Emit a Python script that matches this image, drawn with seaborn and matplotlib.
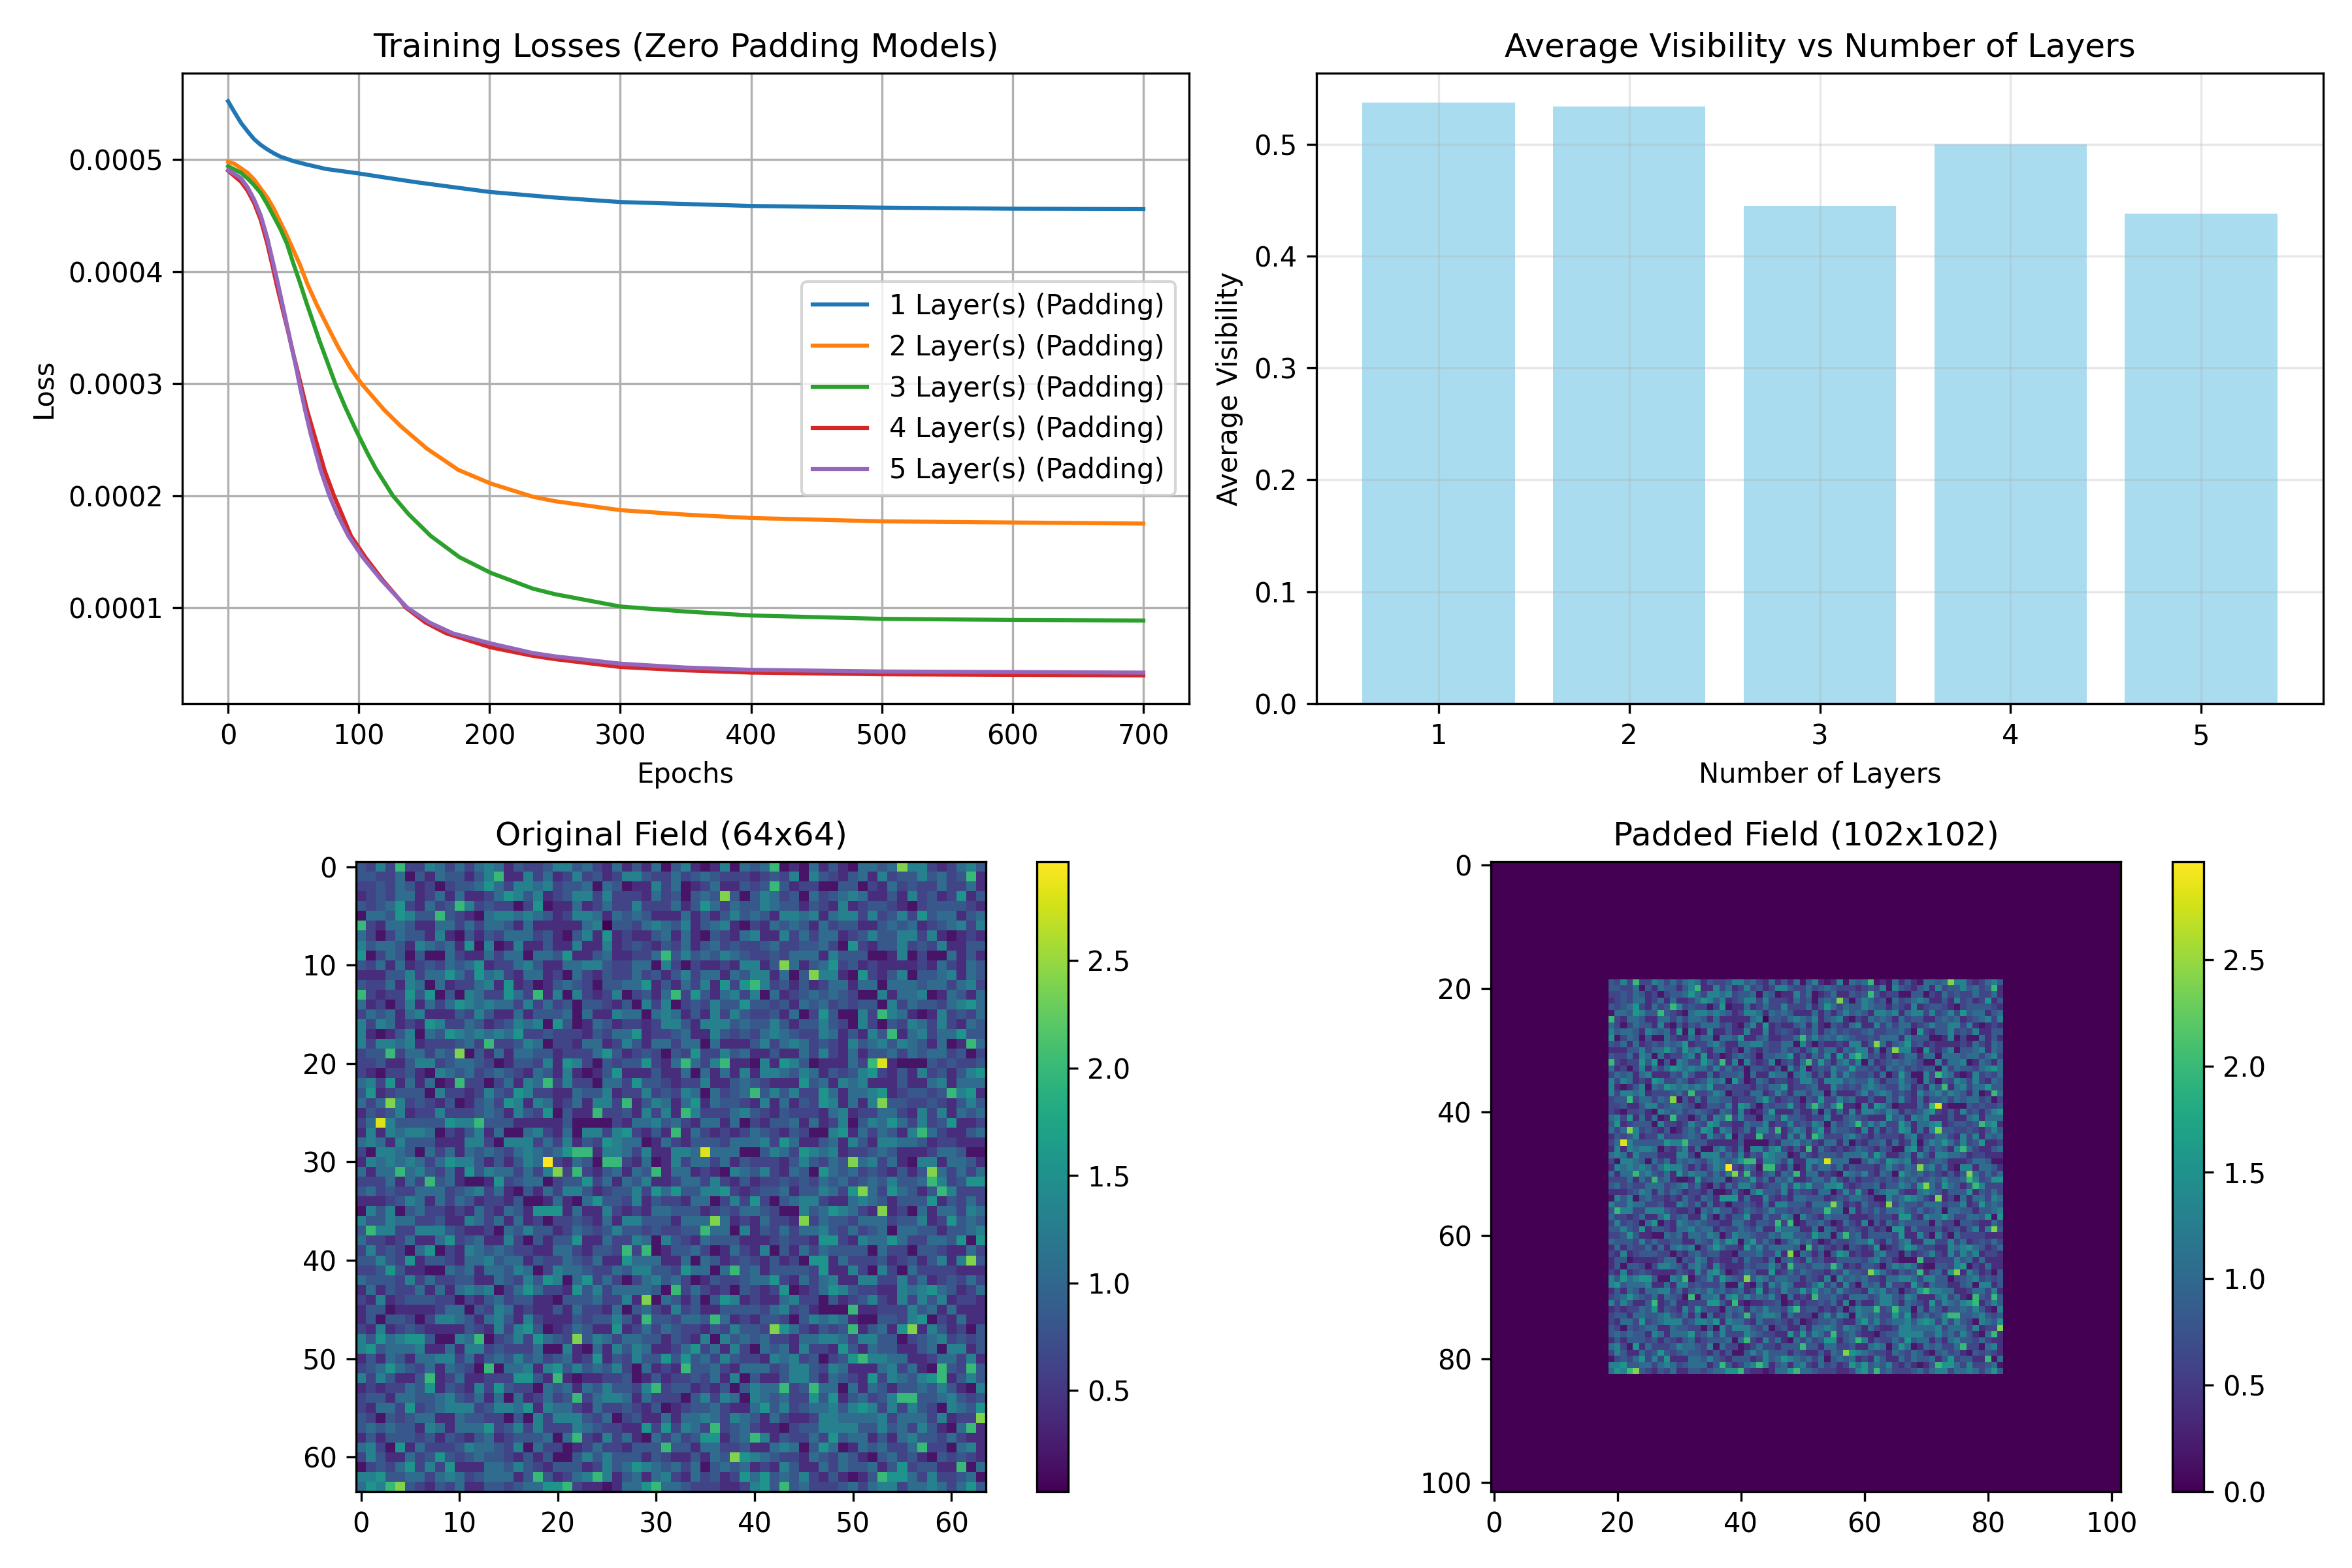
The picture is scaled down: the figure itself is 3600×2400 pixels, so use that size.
# ----------------------------------------------------------
# Zero padding study : losses, visibility and field maps
# ----------------------------------------------------------

import numpy as np
import matplotlib
matplotlib.use("Agg")
import matplotlib.pyplot as plt
import seaborn as sns

# ----------------------------------------------------------
# Loss curves, values in units of 1e-4
# ----------------------------------------------------------

loss_scale = 1e-4

epochs_1 = [0, 5, 10, 15, 20, 25, 30, 35, 40, 50, 60, 75, 100, 125, 145, 200, 250, 300, 400, 500, 600, 700]
loss_1 = [5.52, 5.42, 5.325, 5.25, 5.18, 5.13, 5.09, 5.055, 5.025, 4.985, 4.955, 4.915, 4.875, 4.83, 4.795, 4.71, 4.66, 4.62, 4.585, 4.57, 4.56, 4.557]

epochs_2 = [0, 5, 10, 15, 20, 25, 30, 35, 40, 45, 50, 55, 61, 68, 77, 84, 94, 102, 119, 132, 152, 176, 201, 233, 250, 300, 350, 400, 500, 600, 700]
loss_2 = [4.98, 4.96, 4.92, 4.88, 4.82, 4.74, 4.66, 4.56, 4.44, 4.32, 4.19, 4.06, 3.88, 3.70, 3.49, 3.33, 3.13, 3.0, 2.77, 2.62, 2.42, 2.23, 2.107, 1.99, 1.95, 1.87, 1.83, 1.80, 1.77, 1.76, 1.75]

epochs_3 = [0, 5, 10, 15, 20, 25, 30, 35, 40, 45, 50, 55, 60, 65, 70, 76, 82, 90, 98, 107, 113, 126, 138, 155, 177, 201, 233, 250, 300, 350, 400, 500, 600, 700]
loss_3 = [4.94, 4.91, 4.88, 4.83, 4.77, 4.70, 4.60, 4.49, 4.38, 4.25, 4.07, 3.90, 3.72, 3.55, 3.38, 3.19, 3.0, 2.78, 2.58, 2.37, 2.24, 2.0, 1.835, 1.64, 1.45, 1.31, 1.17, 1.12, 1.01, 0.965, 0.93, 0.90, 0.89, 0.885]

epochs_4 = [0, 5, 10, 15, 20, 25, 30, 35, 37, 46, 50, 53, 55.5, 60.5, 65.5, 70.5, 74, 81, 87, 94, 105, 118, 132, 136, 151, 167, 201, 233, 250, 300, 350, 400, 500, 600, 700]
loss_4 = [4.90, 4.85, 4.80, 4.72, 4.61, 4.46, 4.25, 4.0, 3.89, 3.46, 3.26, 3.12, 3.0, 2.76, 2.56, 2.36, 2.22, 2.0, 1.835, 1.64, 1.45, 1.25, 1.06, 1.0, 0.867, 0.77, 0.645, 0.57, 0.54, 0.47, 0.44, 0.42, 0.405, 0.40, 0.395]

epochs_5 = [0, 5, 10, 15, 20, 25, 30, 35, 38, 42.5, 46, 49.5, 52.5, 54.5, 59, 63, 67.5, 71, 77.5, 83.5, 92, 103, 117, 132, 137, 154, 172, 201, 233, 250, 300, 350, 400, 500, 600, 700]
loss_5 = [4.905, 4.87, 4.83, 4.75, 4.64, 4.50, 4.30, 4.05, 3.90, 3.66, 3.47, 3.28, 3.12, 3.0, 2.76, 2.56, 2.37, 2.22, 2.0, 1.835, 1.64, 1.45, 1.25, 1.06, 1.0, 0.867, 0.77, 0.68, 0.595, 0.565, 0.50, 0.465, 0.445, 0.43, 0.425, 0.42]

loss_ticks = [0.0001, 0.0002, 0.0003, 0.0004, 0.0005]
epoch_ticks = [0, 100, 200, 300, 400, 500, 600, 700]

# ----------------------------------------------------------
# Visibility bars
# ----------------------------------------------------------

layer_counts = [1, 2, 3, 4, 5]
avg_visibility = [0.537, 0.534, 0.445, 0.500, 0.438]

# ----------------------------------------------------------
# Field map : one colour level per cell
# ----------------------------------------------------------

level_values = [0.18, 0.4, 0.62, 0.82, 1.05, 1.3, 1.55, 2.0, 2.4, 2.8, 2.96, 0.03]

field_left = [
    "32527225 42424541 32235534 21413140",
    "33224031 43313571 15241252 31255322",
    "22324312 02334642 55452334 04301152",
    "12324412 41411246 53512355 25222142",
    "32346214 23752322 02601141 24225222",
    "04436533 73210455 45431255 41434311",
    "72144311 44242443 14111114 5b332454",
    "42024331 51031324 44231035 16121134",
    "53443154 34160501 51131151 15123213",
    "60243030 04211424 40443611 34112247",
    "32414123 24346122 45311445 53224405",
    "11133524 46426452 14412042 13224231",
    "32241540 41224516 12013432 03344613",
    "72122636 03054226 42715052 12502314",
    "41202514 24654544 25242303 32130525",
    "24341451 11325311 41333404 11544045",
    "52541216 52243123 54506301 43122125",
    "51013504 36545454 62232221 32446122",
    "52554512 22342722 35402214 41253144",
    "23372442 43803141 44331222 46312320",
    "22311355 23443201 33251652 03233621",
    "21022310 54342343 21431510 13611131",
    "45261414 01722024 15472522 04426332",
    "36123330 52212532 65221143 35122523",
    "42485232 13013426 51541241 55271354",
    "13235122 52223431 53260311 72231525",
    "24953333 36557333 11111300 00214453",
    "15154554 02135140 04521405 52562131",
    "45415333 11155205 55242513 26544014",
    "20554304 24143432 45434677 15542511",
    "15454542 46553131 354a2143 07721401",
    "41447453 24163544 24258272 13414371",
    "22241427 34100162 34402336 24143511",
    "34232244 42345241 03142553 12335264",
    "11123541 42431221 30014104 63325132",
    "05350342 21214214 31666141 15212144",
    "53354422 31154241 41202232 14155333",
    "37552255 53211204 35331243 23533232",
    "42212411 46234115 20313361 14225405",
    "25232046 02154343 22114421 33272701",
    "33532613 32144534 41322432 41164441",
    "22363110 04341443 54025443 22435533",
    "43332524 22331143 25365046 24202453",
    "14132241 41454502 46422163 52444430",
    "21512333 22021342 33110333 42251804",
    "13301111 24403254 12113142 21403421",
    "13033202 55431453 15211132 33531733",
    "21512321 11132152 56301243 11612424",
    "53645663 00547023 52643283 54244331",
    "56344451 14155232 22400510 41535411",
    "13143144 55241343 53423412 61325336",
    "23464324 14320704 45156353 43520412",
    "52531137 12411222 66317101 12230131",
    "12122436 13215263 22043414 35332572",
    "23314433 45324140 41242372 45541422",
    "21442623 45552355 46154421 42232130",
    "32032344 11433220 30525553 24023114",
    "34343315 41444623 52522254 32211626",
    "13133323 13213412 33340472 15241042",
    "45206142 22354432 50422012 42213337",
    "25311423 63234332 13130035 35333132",
    "02324625 26111443 53213331 25346543",
    "55633442 45423444 13731245 75134145",
    "46578321 32411332 34466721 10144674",
]

field_right = [
    "35101504 34701041 31044348 55212453",
    "42343222 12325053 21341523 35342371",
    "40124113 23731220 03302142 32242241",
    "30343830 35423042 34541131 52312613",
    "41364243 35433132 15123321 02333321",
    "14131353 43155451 45525235 26344134",
    "35134510 21434314 23311343 41234525",
    "14103214 51152424 41235335 52510121",
    "24134232 23422334 20621335 23251133",
    "35343543 22324441 53330015 02004131",
    "20211215 51384134 62312111 12142143",
    "35244143 55140385 51062135 03345143",
    "14251626 75231312 44144044 43442452",
    "72631452 50412343 43200514 45014314",
    "02325336 33231434 23233052 43324564",
    "41315253 22314026 30052754 10152324",
    "53155534 33531335 32052032 54252143",
    "34115323 24543225 41315371 45244633",
    "24404111 35245423 21534535 43140174",
    "32622534 11311425 21413342 43442302",
    "47425711 05165301 11427910 00323223",
    "14041415 15543541 32356213 15231356",
    "12251134 32111634 15451113 11451444",
    "25404234 73535226 41445612 33237561",
    "14614332 15141326 51415833 22321353",
    "17522245 32132221 45122442 15251434",
    "42144140 21334141 25035464 25236112",
    "71421212 43213200 56142431 57421134",
    "21333244 45264113 41531554 43122111",
    "55494440 03542654 51223431 11244300",
    "52442413 22213532 43845241 05514431",
    "44121054 35214306 43423213 13842424",
    "24425213 12232324 34234353 34752366",
    "63355621 23341335 42684264 31375222",
    "21440252 62034552 11454313 33613242",
    "33312324 43200534 65421812 04144254",
    "14448412 14221824 33244423 35126343",
    "23374405 13242445 32423404 43313345",
    "32143331 11232216 62154464 22443606",
    "33420142 15031424 33330422 03321142",
    "14043123 21312066 14222312 31351583",
    "26440473 41333326 11520520 42222111",
    "42013223 44621424 51155225 24123242",
    "72421203 21260124 65322115 45643124",
    "31303651 21145220 31235215 25351221",
    "52311333 32452310 00711222 53414111",
    "24437412 13320354 54100332 56021411",
    "32213253 32864213 23713416 81531203",
    "32150534 34221445 54255330 23452323",
    "24624152 04341522 16314331 13405513",
    "36342532 21545230 23675544 11244251",
    "17334214 44235532 54111452 41073273",
    "22324150 31135531 43216254 35671353",
    "33121303 54472374 40414313 34353105",
    "20352540 54342263 61342357 73345323",
    "12334211 46352344 53565252 53205436",
    "14454254 31421125 54444524 44251228",
    "25427234 21102335 55533534 25310471",
    "42366134 75132242 63441314 53324211",
    "33144223 11454036 40143422 47220451",
    "11314386 54322143 24310342 31032321",
    "42403434 12153114 24334136 23311704",
    "21423126 46343521 31013766 42522340",
    "43222112 56373422 23424552 44542463",
]

field_ticks = [0, 10, 20, 30, 40, 50, 60]
padded_ticks = [0, 20, 40, 60, 80, 100]
pad_width = 19

rows = []
for left, right in zip(field_left, field_right):
    digits = (left + right).replace(" ", "")
    rows.append([level_values[int(d, 16)] for d in digits])
field = np.array(rows)
padded_field = np.pad(field, pad_width)

# ----------------------------------------------------------
# Figure layout (pixels of the 3600x2400 canvas)
# ----------------------------------------------------------

fig_w, fig_h = 3600, 2400
fig = plt.figure(figsize=(12, 8), dpi=300)


def axes_px(left, top, right, bottom):
    return fig.add_axes([
        left / fig_w,
        1 - bottom / fig_h,
        (right - left) / fig_w,
        (bottom - top) / fig_h,
    ])


ax_loss = axes_px(279, 112, 1820, 1077)
ax_vis = axes_px(2015, 112, 3556, 1077)
ax_orig = axes_px(545, 1319, 1509, 2283)
cax_orig = axes_px(1587, 1319, 1635, 2283)
ax_pad = axes_px(2282, 1319, 3246, 2283)
cax_pad = axes_px(3325, 1319, 3373, 2283)

# ----------------------------------------------------------
# Training losses
# ----------------------------------------------------------

loss_series = [
    (epochs_1, loss_1, "1 Layer(s) (Padding)", "tab:blue"),
    (epochs_2, loss_2, "2 Layer(s) (Padding)", "tab:orange"),
    (epochs_3, loss_3, "3 Layer(s) (Padding)", "tab:green"),
    (epochs_4, loss_4, "4 Layer(s) (Padding)", "tab:red"),
    (epochs_5, loss_5, "5 Layer(s) (Padding)", "tab:purple"),
]

for xs, ys, name, color in loss_series:
    sns.lineplot(
        x=xs,
        y=np.array(ys) * loss_scale,
        label=name,
        color=color,
        errorbar=None,
        ax=ax_loss
    )

ax_loss.set_title("Training Losses (Zero Padding Models)")
ax_loss.set_xlabel("Epochs")
ax_loss.set_ylabel("Loss")
ax_loss.set_xticks(epoch_ticks)
ax_loss.set_yticks(loss_ticks)
ax_loss.set_xlim(-35, 735)
ax_loss.set_ylim(0.0000143, 0.000577)
ax_loss.grid(True)
ax_loss.legend(loc="center right")

# ----------------------------------------------------------
# Average visibility
# ----------------------------------------------------------

sns.barplot(
    x=layer_counts,
    y=avg_visibility,
    color="skyblue",
    alpha=0.7,
    saturation=1,
    ax=ax_vis
)

ax_vis.set_title("Average Visibility vs Number of Layers")
ax_vis.set_xlabel("Number of Layers")
ax_vis.set_ylabel("Average Visibility")
ax_vis.set_xlim(-0.64, 4.64)
ax_vis.set_ylim(0, 0.5635)
ax_vis.grid(True, alpha=0.3)

# ----------------------------------------------------------
# Field maps
# ----------------------------------------------------------

maps = [
    (ax_orig, cax_orig, field, field_ticks, "Original Field (64x64)"),
    (ax_pad, cax_pad, padded_field, padded_ticks, "Padded Field (102x102)"),
]

for ax, cax, values, ticks, title in maps:
    sns.heatmap(
        values,
        cmap="viridis",
        ax=ax,
        cbar_ax=cax,
        xticklabels=False,
        yticklabels=False
    )
    ax.set_xticks([t + 0.5 for t in ticks])
    ax.set_yticks([t + 0.5 for t in ticks])
    ax.set_xticklabels(ticks, rotation=0)
    ax.set_yticklabels(ticks, rotation=0)
    ax.tick_params(left=True, bottom=True)
    ax.set_title(title)
    for spine in ax.spines.values():
        spine.set_visible(True)
    ax.collections[0].colorbar.outline.set_linewidth(0.8)
    cax.tick_params(right=True)

fig.savefig("out.png", dpi=300)
plt.close(fig)
